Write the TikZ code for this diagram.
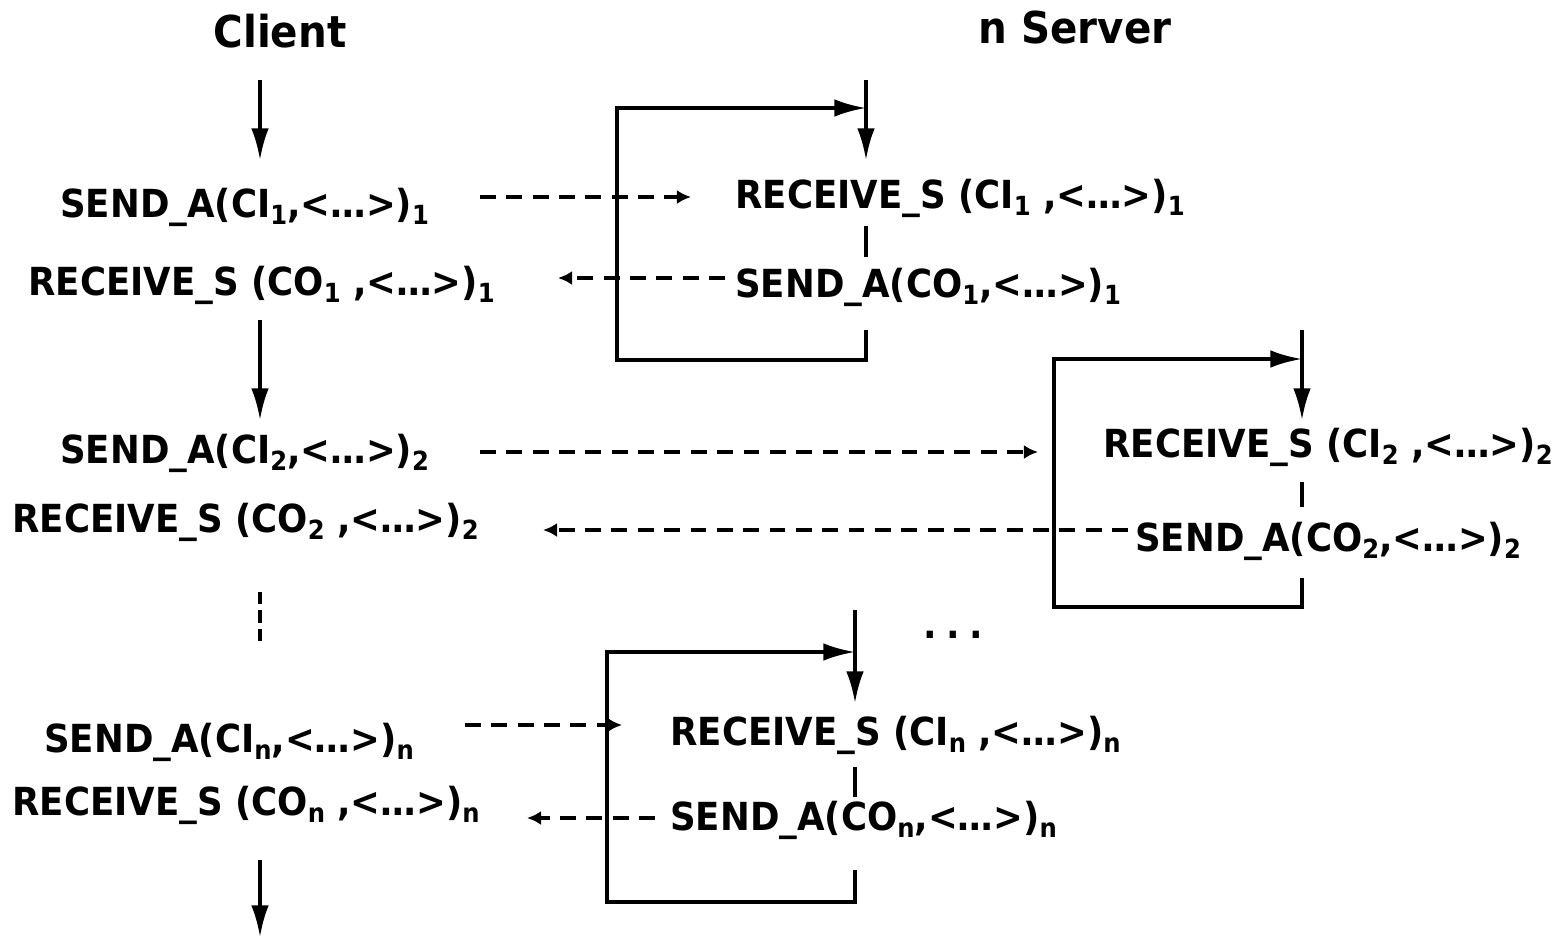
\documentclass[tikz,border=0pt]{standalone}
\usepackage{fontspec}
\setmainfont[FakeStretch=0.92]{DejaVu Sans}
\usetikzlibrary{arrows.meta}
\newcommand{\ix}[1]{\raisebox{-4pt}{\fontsize{15}{15}\selectfont #1}}
\tikzset{
  msg/.style={anchor=base west, inner sep=0pt, font=\fontsize{22}{24}\selectfont\bfseries},
  head/.style={anchor=base, inner sep=0pt, font=\fontsize{25}{28}\selectfont\bfseries},
  flow/.style={line width=2pt, -{Latex[length=18pt,width=10pt]}},
  plain/.style={line width=2pt},
  call/.style={line width=2pt, dash pattern=on 9pt off 6pt, -{Latex[length=8pt,width=8pt]}},
  gap/.style={line width=2pt, dash pattern=on 7pt off 3.5pt},
}
\begin{document}
\begin{tikzpicture}[x=0.02cm, y=-0.02cm]
\useasboundingbox (0,0) rectangle (1566,937);

% headings
\node[head] (client) at (280,47) {Client};
\node[head] (server) at (1075,43) {n Server};

% client side
\node[msg] (ci1) at (60,217) {SEND\_A(CI\ix{1},<…>)\ix{1}};
\node[msg] (co1) at (28,295) {RECEIVE\_S (CO\ix{1} ,<…>)\ix{1}};
\node[msg] (ci2) at (60,463) {SEND\_A(CI\ix{2},<…>)\ix{2}};
\node[msg] (co2) at (12,532) {RECEIVE\_S (CO\ix{2} ,<…>)\ix{2}};
\node[msg] (cin) at (44,752) {SEND\_A(CI\ix{n},<…>)\ix{n}};
\node[msg] (con) at (12,815) {RECEIVE\_S (CO\ix{n} ,<…>)\ix{n}};

% server side
\node[msg] (si1) at (735,208) {RECEIVE\_S (CI\ix{1} ,<…>)\ix{1}};
\node[msg] (so1) at (735,297) {SEND\_A(CO\ix{1},<…>)\ix{1}};
\node[msg] (si2) at (1103,457) {RECEIVE\_S (CI\ix{2} ,<…>)\ix{2}};
\node[msg] (so2) at (1135,551) {SEND\_A(CO\ix{2},<…>)\ix{2}};
\node[msg] (sin) at (670,745) {RECEIVE\_S (CI\ix{n} ,<…>)\ix{n}};
\node[msg] (son) at (670,830) {SEND\_A(CO\ix{n},<…>)\ix{n}};
\node[inner sep=0pt, font=\fontsize{22}{24}\selectfont\bfseries] (dots) at (953,635) {.\hspace{5.4pt}.\hspace{5.4pt}.};

% client thread
\coordinate (c0) at (260,80);
\coordinate (c1) at (260,160);
\coordinate (c2) at (260,320);
\coordinate (c3) at (260,420);
\coordinate (c4) at (260,592);
\coordinate (c5) at (260,642);
\coordinate (c6) at (260,860);
\coordinate (c7) at (260,937);
\draw[flow] (c0) -- (c1);
\draw[flow] (c2) -- (c3);
\draw[gap] (c4) -- (c5);
\draw[flow] (c6) -- (c7);

% server 1
\coordinate (a0) at (866,80);
\coordinate (a1) at (866,160);
\draw[flow] (a0) -- (a1);
\draw[plain] (866,226) -- (866,257);
\draw[flow] (866,330) -- (866,360) -- (617,360) -- (617,108) -- (866,108);
\coordinate (m1) at (480,197);
\coordinate (m2) at (691,197);
\coordinate (m3) at (725,278);
\coordinate (m4) at (558,278);
\draw[call] (m1) -- (m2);
\draw[call] (m3) -- (m4);

% server 2
\coordinate (b0) at (1302,330);
\coordinate (b1) at (1302,420);
\draw[flow] (b0) -- (b1);
\draw[plain] (1302,482) -- (1302,507);
\draw[flow] (1302,578) -- (1302,607) -- (1054,607) -- (1054,359) -- (1302,359);
\coordinate (m5) at (480,452);
\coordinate (m6) at (1038,452);
\coordinate (m7) at (1128,530);
\coordinate (m8) at (543,530);
\draw[call] (m5) -- (m6);
\draw[call] (m7) -- (m8);

% server n
\coordinate (d0) at (855,610);
\coordinate (d1) at (855,703);
\draw[flow] (d0) -- (d1);
\draw[plain] (855,767) -- (855,797);
\draw[flow] (855,870) -- (855,902) -- (607,902) -- (607,652) -- (855,652);
\coordinate (m9) at (465,725);
\coordinate (m10) at (622,725);
\coordinate (m11) at (655,818);
\coordinate (m12) at (527,818);
\draw[call] (m9) -- (m10);
\draw[call] (m11) -- (m12);
\end{tikzpicture}
\end{document}
